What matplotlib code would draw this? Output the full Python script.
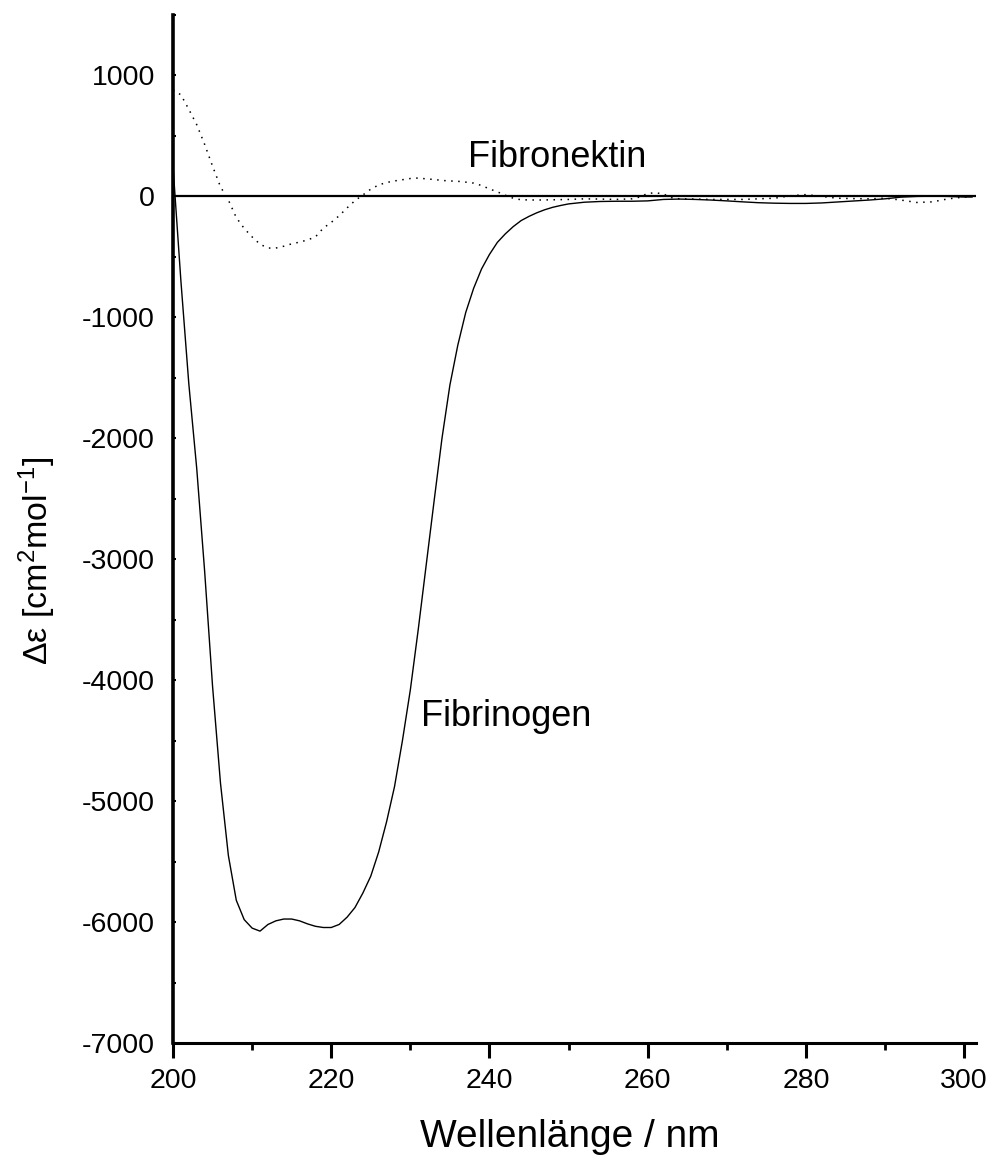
import matplotlib
matplotlib.use("Agg")
import matplotlib.pyplot as plt
from matplotlib.ticker import MultipleLocator

plt.rcParams['font.family'] = ['Liberation Sans', 'DejaVu Sans']
plt.rcParams['mathtext.fontset'] = 'custom'
plt.rcParams['mathtext.rm'] = 'Liberation Sans'
plt.rcParams['mathtext.it'] = 'Liberation Sans:italic'
plt.rcParams['mathtext.bf'] = 'Liberation Sans:bold'
plt.rcParams['axes.unicode_minus'] = False

# Fibrinogen (solid)
fibrinogen_wl = [200, 201, 202, 203, 204, 205, 206, 207, 208, 209, 210, 211, 212, 213, 214,
                 215, 216, 217, 218, 219, 220, 221, 222, 223, 224, 225, 226, 227, 228, 229,
                 230, 231, 232, 233, 234, 235, 236, 237, 238, 239, 240, 241, 242, 243, 244,
                 245, 246, 247, 248, 249, 250, 252, 254, 256, 258, 260, 262, 264, 266, 268,
                 270, 272, 274, 276, 278, 280, 282, 284, 286, 288, 290, 292, 294, 296, 298,
                 300, 301]
fibrinogen_de = [250, -700, -1550, -2250, -3100, -4050, -4850, -5450, -5820, -5980, -6050, -6075,
                 -6020, -5990, -5975, -5975, -5990, -6015, -6035, -6045, -6045, -6020, -5960,
                 -5880, -5760, -5620, -5420, -5170, -4880, -4500, -4080, -3580, -3050, -2520,
                 -2000, -1560, -1230, -960, -760, -600, -480, -380, -310, -250, -200, -165, -135,
                 -110, -90, -75, -62, -48, -42, -40, -40, -37, -25, -22, -25, -30, -37, -45, -52,
                 -56, -58, -58, -54, -46, -38, -30, -20, -6, 0, 2, 0, -5, -5]

# Fibronektin (dotted)
fibronektin_wl = [200, 201, 202, 203, 204, 205, 206, 207, 208, 209, 210, 211, 212, 213, 214,
                  215, 216, 217, 218, 219, 220, 221, 222, 223, 224, 225, 226, 227, 228, 229,
                  230, 231, 232, 233, 234, 235, 236, 237, 238, 239, 240, 241, 242, 243, 244,
                  246, 248, 250, 252, 254, 256, 258, 259, 260, 261, 262, 263, 264, 266, 268,
                  270, 272, 274, 276, 278, 280, 282, 284, 286, 288, 290, 292, 294, 296, 298,
                  300, 301]
fibronektin_de = [880, 840, 720, 593, 430, 250, 80, -30, -175, -265, -335, -395, -427, -427,
                  -412, -392, -378, -360, -335, -262, -215, -160, -95, -35, 12, 60, 95, 115,
                  128, 138, 148, 152, 145, 140, 132, 128, 125, 118, 110, 90, 62, 38, 10, -15,
                  -28, -30, -28, -25, -20, -22, -25, -20, -5, 25, 30, 20, -10, -20, -22, -25,
                  -25, -25, -20, -15, 5, 15, 0, -15, -18, -20, -15, -30, -50, -45, -20, -5, 0]

x_ticks = [200, 220, 240, 260, 280, 300]
y_ticks = [-7000, -6000, -5000, -4000, -3000, -2000, -1000, 0, 1000]

fig = plt.figure(figsize=(9.92, 11.6), dpi=100)
ax = fig.add_axes([173/992, 1 - 1043/1160, (976-173)/992, (1043-15)/1160])

ax.axhline(0, color='black', lw=1.6, zorder=2)
ax.plot(fibrinogen_wl, fibrinogen_de, color='black', lw=1.0, zorder=3)
ax.plot(fibronektin_wl, fibronektin_de, color='black', lw=1.1,
        linestyle=(0, (1, 3.6)), zorder=3)

ax.set_xlim(200, 301.5)
ax.set_ylim(-7000, 1500)

for s in ['top', 'right']:
    ax.spines[s].set_visible(False)
ax.spines['left'].set_linewidth(2.6)
ax.spines['bottom'].set_linewidth(2.2)

ax.set_xticks(x_ticks)
ax.xaxis.set_minor_locator(MultipleLocator(10))
ax.set_yticks(y_ticks)
ax.yaxis.set_minor_locator(MultipleLocator(500))

ax.tick_params(axis='x', which='major', direction='out', length=11, width=2.2,
               labelsize=20.5, pad=7)
ax.tick_params(axis='x', which='minor', direction='out', length=5, width=2.0)
ax.tick_params(axis='y', which='both', direction='in', length=2.5, width=1.5,
               labelsize=20.5, pad=13)

ax.text(237.3, 240, 'Fibronektin', fontsize=26, ha='left', va='baseline')
ax.text(231.4, -4380, 'Fibrinogen', fontsize=26, ha='left', va='baseline')

fig.text(570/992, 1 - 1147/1160, 'Wellenlänge / nm', fontsize=28,
         ha='center', va='baseline')
fig.text(37.5/992, 1 - 561/1160, r'Δε [cm$^2$mol$^{-1}$]', fontsize=24.5,
         ha='center', va='center', rotation=90)

fig.savefig('out.png', dpi=100)
